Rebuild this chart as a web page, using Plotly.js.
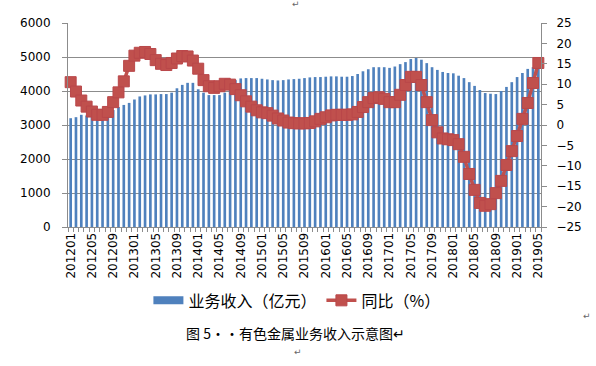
<!DOCTYPE html>
<html>
<head>
<meta charset="utf-8">
<script src="https://cdn.plot.ly/plotly-3.0.1.min.js"></script>
<style>html,body{margin:0;padding:0;background:#fff;}#chart{width:596px;height:366px;}</style>
</head>
<body>
<div id="chart"></div>
<script>
// Months 201201 .. 201905
var months = [];
for (var y = 2012; y <= 2019; y++) {
  for (var m = 1; m <= 12; m++) {
    if (y === 2019 && m > 5) break;
    months.push(String(y) + (m < 10 ? '0' + m : String(m)));
  }
}

var revenue = [
  3200, 3230, 3300, 3280, 3250, 3200, 3230, 3300, 3440, 3530, 3590, 3650,
  3750, 3840, 3870, 3900, 3900, 3910, 3910, 3950, 4080, 4180, 4240, 4240,
  4050, 3950, 3880, 3880, 3880, 3950, 4100, 4320, 4370, 4380, 4380, 4380,
  4360, 4340, 4320, 4310, 4320, 4340, 4350, 4360, 4380, 4400, 4410, 4410,
  4420, 4430, 4430, 4420, 4420, 4440, 4500, 4580, 4640, 4700, 4700, 4700,
  4680, 4720, 4790, 4850, 4940, 4970, 4920, 4820, 4700, 4620, 4560, 4530,
  4520, 4450, 4380, 4260, 4150, 4030, 3940, 3920, 3910, 4000, 4120, 4260,
  4410, 4530, 4650, 4700, 4820
];

var yoy = [
  10.5, 8.2, 6.0, 4.5, 3.3, 2.5, 2.5, 3.2, 5.6, 8.0, 10.7, 14.5,
  17.0, 17.7, 17.9, 17.4, 15.9, 15.0, 14.7, 15.2, 16.3, 16.9, 16.8, 15.8,
  13.8, 11.0, 9.5, 9.1, 9.5, 10.1, 9.9, 8.8, 7.3, 5.8, 4.5, 3.6,
  3.1, 2.9, 2.3, 1.6, 1.1, 0.6, 0.45, 0.4, 0.4, 0.5, 0.9, 1.5,
  1.9, 2.35, 2.5, 2.5, 2.5, 2.6, 3.2, 4.4, 5.6, 6.6, 6.8, 6.4,
  5.6, 5.6, 7.4, 9.8, 11.8, 11.8, 9.8, 5.6, 1.2, -1.8, -3.3, -3.5,
  -3.7, -4.7, -7.8, -12.0, -15.9, -19.1, -19.8, -19.4, -16.7, -13.7, -9.8, -6.4,
  -2.7, 1.5, 5.4, 10.3, 15.2
];

var tickLabels = months.map(function (d, i) { return i % 4 === 0 ? d : ''; });

var seriesNames = ['业务收入（亿元）', '同比（%）'];
var caption = '图 5··有色金属业务收入示意图↵';

var tickFont = {family: 'DejaVu Sans, Verdana, sans-serif', size: 12, color: '#000'};
var axisGrey = '#8c8c8c';
var barBlue = '#4F81BD';
var lineRed = '#C0504D';

var traces = [
  {
    type: 'bar', x: months, y: revenue, name: seriesNames[0],
    marker: {color: barBlue, line: {width: 0}},
    yaxis: 'y', showlegend: false
  },
  // legend key for the bar series (wide flat swatch like the reference)
  {
    type: 'scatter', mode: 'lines', x: [months[0]], y: [null], name: seriesNames[0],
    line: {color: barBlue, width: 8}, yaxis: 'y', showlegend: true, hoverinfo: 'skip'
  },
  {
    type: 'scatter', mode: 'lines+markers', x: months, y: yoy, name: seriesNames[1],
    line: {color: lineRed, width: 3.5},
    marker: {symbol: 'square', size: 11, color: lineRed, line: {color: '#B9474A', width: 1}},
    yaxis: 'y2', cliponaxis: false
  }
];

var layout = {
  width: 596, height: 366,
  margin: {l: 68, r: 55, t: 23, b: 139, autoexpand: false},
  paper_bgcolor: '#fff', plot_bgcolor: '#fff',
  bargap: 0.5,
  showlegend: true,
  legend: {
    orientation: 'h', x: 0.17, y: -0.36, xanchor: 'left', yanchor: 'middle',
    font: {family: 'Noto Sans CJK SC, sans-serif', size: 16, color: '#000'},
    itemwidth: 30, tracegroupgap: 0
  },
  xaxis: {
    type: 'category', automargin: false, autorange: false, range: [-0.5, months.length - 0.5],
    tickmode: 'array', tickvals: months, ticktext: tickLabels,
    tickangle: -90, tickfont: tickFont,
    ticks: 'outside', ticklen: 4, tickcolor: axisGrey, tickson: 'boundaries',
    showline: true, linecolor: axisGrey, linewidth: 1,
    showgrid: false, zeroline: false, fixedrange: true
  },
  yaxis: {
    range: [0, 6000], dtick: 1000, tick0: 0, automargin: false,
    tickfont: tickFont, ticks: 'outside', ticklen: 5, tickcolor: axisGrey, ticklabelstandoff: 9,
    showline: true, linecolor: axisGrey, linewidth: 1,
    showgrid: true, gridcolor: axisGrey, gridwidth: 1, zeroline: false
  },
  yaxis2: {
    overlaying: 'y', side: 'right', automargin: false,
    range: [-25, 25], dtick: 5, tick0: -25,
    tickfont: tickFont, ticks: 'outside', ticklen: 5, tickcolor: axisGrey, ticklabelstandoff: 7,
    showline: true, linecolor: axisGrey, linewidth: 1,
    showgrid: false, zeroline: false
  },
  annotations: [
    {xref: 'paper', yref: 'paper', x: 0.482, y: -0.52, xanchor: 'center', yanchor: 'middle',
     text: caption, showarrow: false,
     font: {family: 'Noto Sans CJK SC, sans-serif', size: 14, color: '#000'}},
    {xref: 'paper', yref: 'paper', x: (296 - 68) / 473, y: (227 - 4) / 204, xanchor: 'center', yanchor: 'middle',
     text: '↵', showarrow: false, font: {family: 'DejaVu Sans', size: 9, color: '#666'}},
    {xref: 'paper', yref: 'paper', x: (587 - 68) / 473, y: (227 - 316) / 204, xanchor: 'center', yanchor: 'middle',
     text: '↵', showarrow: false, font: {family: 'DejaVu Sans', size: 9, color: '#666'}},
    {xref: 'paper', yref: 'paper', x: (298 - 68) / 473, y: (227 - 352) / 204, xanchor: 'center', yanchor: 'middle',
     text: '↵', showarrow: false, font: {family: 'DejaVu Sans', size: 9, color: '#666'}}
  ]
};

Plotly.newPlot('chart', traces, layout, {displayModeBar: false, staticPlot: true});
</script>
</body>
</html>
